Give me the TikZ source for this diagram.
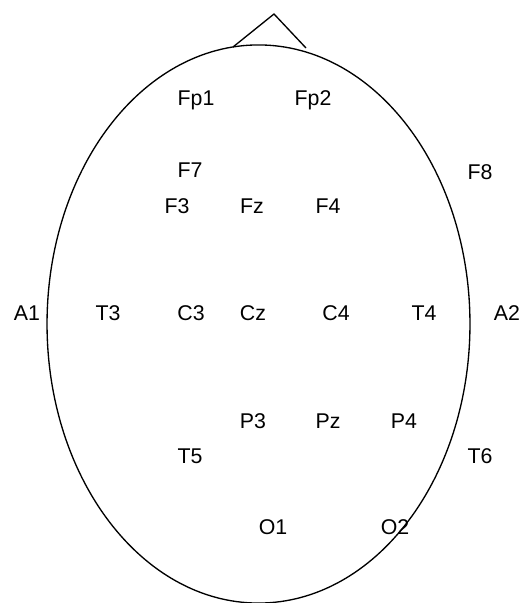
\documentclass[tikz,border=0pt]{standalone}
\usepackage{fontspec}
\setmainfont{Liberation Sans}
\usetikzlibrary{calc}
\tikzset{electrode/.style={inner sep=0pt, font=\fontsize{16}{19}\selectfont}}
\tikzset{outline/.style={line width=1pt, line join=miter}}

\begin{document}
\begin{tikzpicture}[x=0.75pt,y=-0.75pt]
\useasboundingbox (0,0) rectangle (525,603);

\coordinate (head) at (258.5,324);
\draw[outline] (head) ellipse (158.6pt and 209.3pt);

%nose
\coordinate (noseL) at (233,47);
\coordinate (noseT) at (274,14);
\coordinate (noseR) at (306,48);
\draw[outline] (noseL)--(noseT)--(noseR);

\node (fp1) at (196,100)[electrode]{Fp1};
\node (fp2) at (313,100)[electrode]{Fp2};
\node (f7) at (190,170)[electrode]{F7};
\node (f8) at (480,172)[electrode]{F8};
\node (f3) at (177,206)[electrode]{F3};
\node (fz) at (252,206)[electrode]{Fz};
\node (f4) at (328,206)[electrode]{F4};

\node (a1) at (27,313)[electrode]{A1};
\node (t3) at (108,313)[electrode]{T3};
\node (c3) at (191,313)[electrode]{C3};
\node (cz) at (253,313)[electrode]{Cz};
\node (c4) at (336,313)[electrode]{C4};
\node (t4) at (424,313)[electrode]{T4};
\node (a2) at (507,313)[electrode]{A2};

\node (p3) at (253,421)[electrode]{P3};
\node (pz) at (328,421)[electrode]{Pz};
\node (p4) at (404,421)[electrode]{P4};
\node (t5) at (190,456)[electrode]{T5};
\node (t6) at (480,456)[electrode]{T6};
\node (o1) at (273,527)[electrode]{O1};
\node (o2) at (395,527)[electrode]{O2};

\end{tikzpicture}
\end{document}
